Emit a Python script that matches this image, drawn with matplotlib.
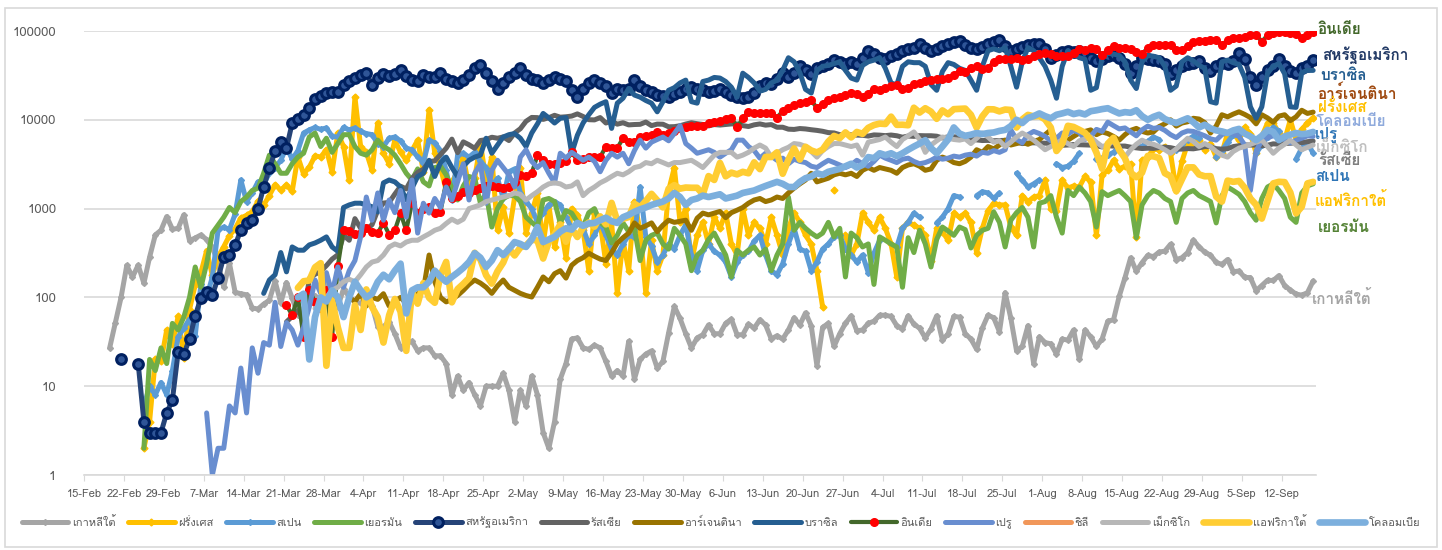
import numpy as np
import pandas as pd
import matplotlib
matplotlib.use("Agg")
import matplotlib.pyplot as plt
from matplotlib import font_manager, ft2font
from matplotlib.ticker import FuncFormatter, NullLocator, FixedLocator

nan = np.nan
BASE = pd.Timestamp("2020-02-15")

# pick an installed font that has Thai glyphs
thai_font = None
for fe in font_manager.fontManager.ttflist:
    try:
        if 0x0E01 in ft2font.FT2Font(fe.fname).get_charmap():
            thai_font = fe.name
            break
    except Exception:
        pass
plt.rcParams["font.family"] = [thai_font, "DejaVu Sans"] if thai_font else ["DejaVu Sans"]

# ---- data: daily new cases ----
korea_start = "2020-02-19"
korea = [27, 52, 100, 229, 169, 231, 144, 284, 505, 571, 813,
         586, 599, 851, 435, 467, 505, 448, 367, 248, 131, 242, 114, 110, 107, 76, 74, 84, 93, 152, 87,
         147, 98, 64, 76, 100, 104, 91, 146, 105, 78, 125,
         101, 89, 86, 94, 81, 47, 47, 53, 39, 27, 30, 32, 25, 27, 27, 22, 22, 18, 8, 13,
         9, 11, 8, 6, 10, 10, 10, 14, 9, 4,
         9, 6, 13, 8, 3, 2, 4, 12, 18, 34, 35, 27, 26, 29, 27, 19, 13, 15, 13, 32,
         12, 20, 23, 25, 16, 19, 40, 79, 58, 39, 27,
         35, 38, 49, 39, 39, 51, 57, 38, 38, 50, 45, 56, 49, 34, 37, 34, 43, 59, 49, 67,
         48, 17, 46, 51, 28, 39, 51, 62, 42, 43,
         51, 54, 63, 63, 61, 48, 44, 62, 50, 45, 35, 44, 62, 33, 39, 61, 60, 39, 34, 26,
         45, 63, 59, 41, 113, 58, 25, 28, 48, 18, 36,
         31, 30, 23, 34, 33, 43, 20, 43, 36, 28, 34, 54, 56, 103, 166, 279, 197, 246, 297, 288,
         324, 332, 397, 266, 280, 320, 441, 371, 323, 299, 248,
         235, 267, 195, 198, 168, 167, 119, 136, 156, 155, 176, 136, 121, 109, 106, 113, 153]

france_start = "2020-02-25"
france = [2, 4, 20, 19,
          43, 30, 61, 21, 73, 138, 190,
          336, 177, 286, 372, 497, 595, 785,
          838, 924, 1210, 1097, 1404, 1861, 1617,
          1847, 1559, 3838, 2446, 2931, 3922, 3809,
          4611, 2599, 7100, 5000, 2100, 18000, 5000,
          4300, 2700, 9200, 4200, 3200, 5900, 4300,
          3500, 4500, 5900, 2600, 13000, 4200, 2900,
          1600, 2000, 2600, 3800, 1750, 2200, 5400,
          2100, 3800, 570, 1030, 530, 1350, 2900,
          530, 900, 1500, 400, 1100, 370, 700,
          280, 1000, 850, 570, 200, 900, 690,
          240, 700, 111, 440, 200, 1200, 560,
          111, 440, 200, 300, 1600, 2900, 700,
          1000, 250, 500, 700, 400, 800, 600,
          900, 400, 300, 1000, 500, 700, 600,
          400, 800, 500, 300, 600, 900, 700,
          500, 400, 200, 78, nan, 1600, nan,
          500, 300, 400, 900, 700, 570, 800,
          600, 400, 170, 600, 700, 650, 600,
          500, 260, 600, 550, 440, 890, 800,
          890, 700, 320, 600, 950, 1150, 1100,
          1100, 620, 500, 1400, 1200, 1350, 1400,
          2100, 1000, 950, 2100, 1700, 1800, 1750,
          2300, 2000, 500, 2400, 2700, 3500, 2800,
          3000, 3200, 480, 3500, 3800, 4700, 4600,
          5000, 4200, 1600, 3400, 5400, 5400, 6000,
          4600, 5400, 3800, 4200, 7100, 7000, 5900,
          8200, 7000, 4200, 6500, 9200, 9200, 7100,
          5900, 10000, 6000, 7800, 9200, 10600]

spain_start = "2020-02-25"
spain = [6, 10, 8, 11,
         8, 15, 36, 45, 57, 37, 141,
         100, 170, 570, 620, 580, 870, 2100,
         1200, 1500, 2000, 1900, 2500, 2900, 3500,
         4900, 3600, 4500, 7100, 7700, 8200, 7800,
         8100, 6500, 6400, 8200, 7700, 8100, 7400,
         7000, 6800, 5400, 5000, 6200, 6400, 5800,
         4800, 4600, 3800, 3300, 5900, 5500, 4500,
         2700, 1250, 4000, 4200, 3800, 4300, 3400,
         2900, 1800, 2200, 1300, 2600, 2800, 1500,
         1200, 1000, 700, 900, 1100, 1200, 1100,
         800, 600, 500, 600, 400, 500, 700,
         500, 350, 300, 400, 500, 480, 1750,
         480, 380, 250, 300, 400, 350, 500,
         660, 300, 200, 340, 400, 330, 300,
         250, 170, 250, 300, 330, 430, 500,
         300, 200, 180, 240, 400, 600, 350,
         330, 200, 250, 350, 400, 480, 500,
         350, 300, 250, 300, 190, 315, 440,
         nan, nan, 370, 600, 700, 890, 800,
         nan, nan, 690, 800, 1000, 1400, 1350,
         nan, nan, 1400, 1550, 1500, 1300, 1500,
         nan, nan, 2500, 2100, 1750, 1900, 2100,
         nan, nan, 3200, 2900, 3000, 3400, 4200,
         nan, nan, 3600, 3700, 4000, 4300, 4900,
         nan, nan, 5200, 5000, 5700, 6400, 6000,
         nan, nan, 4600, 5400, 6000, 6500, 6200,
         nan, nan, 3800, 4500, 5600, 6800, 7000,
         nan, nan, 4200, 5200, 6400, 8200, 7500,
         nan, nan, 3600, 4800, 5500, 4200]

germany_start = "2020-02-25"
germany = [2, 20, 15, 27,
           18, 51, 43, 60, 100, 220, 130,
           240, 530, 650, 800, 1030, 900, 1200,
           1350, 1600, 1700, 2500, 4000, 3200, 2500,
           2500, 3200, 3800, 4200, 6400, 7100, 5000,
           6200, 4300, 5400, 6800, 6800, 5000, 4200,
           4000, 4600, 5900, 5000, 4600, 4000, 3200,
           2500, 2100, 2800, 2000, 1800, 2900, 3000,
           2400, 1700, 1250, 1800, 2300, 2200, 1150,
           1500, 620, 1000, 1300, 1400, 1400, 1200,
           800, 700, 620, 1250, 1300, 1200, 690,
           950, 890, 700, 620, 900, 1000, 700,
           620, 410, 500, 690, 550, 600, 260,
           440, 500, 530, 400, 350, 600, 500,
           400, 200, 300, 340, 450, 530, 400,
           300, 170, 340, 300, 340, 370, 300,
           350, 200, 300, 400, 1350, 570, 700,
           600, 530, 480, 530, 700, 480, 600,
           170, 530, 470, 370, 400, 140, 480,
           440, 400, 370, 130, 470, 320, 570,
           400, 220, 450, 620, 560, 500, 620,
           580, 360, 500, 570, 600, 920, 700,
           370, 740, 900, 1030, 800, 370, 1150,
           1200, 1400, 800, 530, 1600, 1400, 1750,
           1500, 1200, 620, 1550, 1400, 1500, 1600,
           1400, 1200, 470, 1100, 1400, 1600, 1500,
           1300, 1200, 700, 1300, 1500, 1600, 1400,
           1300, 1200, 690, 1400, 1750, 1600, 1450,
           1200, 900, 740, 1300, 1750, 1900, 1600,
           1300, 800, 700, 1500, 1800, 1900]

usa_start = "2020-02-21"
usa = [20, nan, nan, 18, 4, 3, 3, 3, 5,
       7, 24, 23, 34, 62, 98, 115, 106, 165, 285, 300, 390, 570, 690, 740, 990, 1750, 2850, 4400, 5600,
       4800, 9200, 10100, 11400, 13500, 17000, 18600, 20000, 20800, 20800, 24700,
       27000, 29500, 32000, 34000, 24700, 29500, 33000, 31000, 33000, 36000, 31000, 28000, 27000, 32000,
       30500, 30500, 33500, 29000, 27000, 26000, 28000, 32000, 38000, 41000, 34000, 27000, 22500, 26000,
       30000, 34000,
       38000, 32000, 29000, 28000, 26000, 28000, 30500, 29000, 27000, 21500, 18000, 22500, 26000, 28000,
       26000, 24000, 20000, 22500, 21500, 22000, 28000, 24000, 21500, 20800, 19000, 18500, 18000, 19500,
       20800, 22000, 23300,
       22000, 21500, 20800, 21000, 22500, 20500, 19000, 18000, 17500, 18000, 20000, 24000, 26000, 25000,
       29000, 33500, 30000, 34000, 40000, 36000, 33000, 38000, 40000, 43000, 47000, 45000, 43000, 45000,
       42000, 50000,
       60000, 55000, 50000, 48000, 52000, 55000, 60000, 62000, 65000, 72000, 64000, 60000, 62000, 68000,
       72000, 75000, 77000, 70000, 64000, 62000, 66000, 72000, 75000, 80000, 68000, 60000, 62000, 66000,
       70000, 72000, 72000,
       62000, 50000, 54000, 58000, 60000, 58000, 60000, 56000, 50000, 46000, 48000, 52000, 54000, 50000,
       42000, 34000, 40000, 50000, 48000, 47000, 46000, 42000, 33000, 36000, 40000, 42000, 44000, 46000,
       38000, 35000, 40000,
       44000, 42000, 46000, 56000, 48000, 30000, 24700, 30000, 36000, 40000, 48000, 40000, 35000, 34000,
       38000, 40000, 47000]

russia_start = "2020-03-21"
russia = [53, 61, 71, 57, 163, 182, 196, 228, 270, 302, 500,
          440, 771, 601, 582, 658, 954, 1154, 1175, 1459, 1786, 1667, 2186, 2558, 2774, 3388, 3448, 4070,
          4785, 6060, 4268, 5642, 5236, 4774, 5849, 5966, 6361, 6198, 6411, 5841, 7099,
          7933, 9623, 10633, 10581, 10102, 10559, 11231, 10699, 10817, 11012, 11656, 10899, 10028, 9974,
          10598, 9200, 9709, 8926, 9263, 8764, 8849, 8894, 9434, 8599, 8946, 8915, 8338, 8371, 8572, 8952,
          9268,
          9035, 8863, 8536, 8831, 8726, 8855, 8984, 8985, 8595, 8404, 8779, 8987, 8706, 8835, 8246, 8248,
          7843, 7790, 7972, 7889, 7728, 7600, 7425, 7176, 7113, 6800, 6852, 6791, 6719, 6693,
          6556, 6760, 6718, 6632, 6736, 6611, 6368, 6562, 6509, 6635, 6611, 6615, 6537, 6248, 6422, 6428,
          6406, 6234, 6109, 5940, 5842, 5862, 5811, 5848, 5871, 5765, 5635, 5395, 5475, 5509, 5482,
          5462, 5427, 5394, 5159, 5204, 5267, 5241, 5212, 5189, 5118, 4945, 5102, 5057, 5065, 5061, 4921,
          4839, 4748, 4790, 4767, 4870, 4921, 4852, 4696, 4676, 4744, 4711, 4829, 4993, 4980, 4729,
          4670, 4729, 4995, 5110, 5205, 5195, 5185, 5099, 5172, 5363, 5310, 5406, 5449, 5509, 5529, 5670,
          5762]

argentina_start = "2020-04-01"
argentina = [100, 90, 110, 80, 100, 95, 110, 80, 90, 100, 85, 95, 110, 120, 300, 150, 100, 89, 95, 105,
             120, 140, 157, 145, 130, 111, 135, 157, 130, 120,
             111, 105, 101, 130, 170, 150, 185, 200, 165, 230, 260, 280, 315, 290, 270, 260, 320, 410, 470,
             530, 690, 600, 640, 690, 550, 650, 740, 700, 720, 740, 570,
             780, 890, 850, 890, 930, 790, 900, 960, 1030, 1150, 1250, 1300, 1200, 1250, 1350, 1300, 1500,
             1700, 1900, 2100, 2500, 2000, 2100, 2200, 2400, 2500, 2400, 2500, 2300, 2700,
             2900, 2700, 2900, 2800, 2700, 2500, 2900, 3100, 3200, 3000, 2700, 2800, 3500, 3800, 3600, 3300,
             3200, 3400, 3800, 4600, 4300, 5000, 4700, 5200, 5900, 5200, 5400, 5600, 5300, 5700, 6000,
             6800, 7700, 5900, 5600, 5900, 6500, 7100, 7400, 7700, 6800, 7300, 7000, 6500, 5900, 6800, 7600,
             8000, 7400, 7100, 7300, 8400, 9000, 10000, 8500, 9200, 9500, 10400, 10200, 9300, 7100, 8500,
             11400, 10800, 11600, 12300, 11500, 10600, 9000, 11400, 10500, 9400, 11000, 11400, 9800, 10800,
             12800, 11800, 12200]

brazil_start = "2020-03-17"
brazil = [111, 157, 180, 320, 194, 370, 340, 340, 390, 410, 440, 480, 370, 330, 1030,
          1100, 1150, 1150, 1100, 1050, 920, 1950, 2100, 2000, 1750, 1250, 1700, 2300, 2500, 3500, 2300,
          3300, 3800, 2900, 2300, 3000, 3500, 3800, 4000, 6200, 4200, 5200, 6400, 6800, 7000,
          6200, 5000, 7100, 9000, 11800, 10500, 9200, 10400, 10600, 4200, 6700, 9200, 11400, 13800, 15000,
          16000, 8000, 15400, 17500, 22500, 19000, 18000, 16500, 15400, 12300, 16000, 21500, 23000, 26000,
          28000, 16000,
          15400, 27000, 28000, 30000, 29500, 27000, 23300, 18000, 33500, 30000, 26000, 21000, 22000, 26000,
          28000, 36000, 50000, 45000, 34000, 22000, 20000, 36000, 40000, 41000, 43000, 45000, 36000, 29500,
          28000, 41000,
          45000, 47000, 50000, 38000, 26000, 24700, 40000, 45000, 44000, 44000, 40000, 25000, 21500, 35000,
          44000, 42000, 38000, 36000, 28000, 21500, 40000, 60000, 63000, 60000, 65000, 40000, 23300, 45000,
          65000, 60000, 50000,
          40000, 28000, 17500, 40000, 60000, 55000, 50000, 48000, 21500, 23000, 50000, 56000, 55000, 53000,
          45000, 28000, 22500, 45000, 53000, 52000, 50000, 40000, 21500, 24000, 45000, 50000, 46000, 41000,
          38000, 16000, 15400,
          45000, 47000, 44000, 42000, 30000, 14000, 10400, 14000, 33500, 40000, 43000, 33000, 14000, 13800,
          34000, 36000, 36000]

india_start = "2020-03-21"
india = [82, 63, 101, 36, 121, 88, 75, 120, 36, 225, 580,
         560, 520, 530, 600, 540, 530, 690, 510, 570, 890, 570, 1150, 890, 1000, 1030, 890, 920, 2000,
         1300, 1400, 1550, 1500, 1600, 1700, 1800, 1800, 1750, 1700, 1750, 2000,
         2400, 2300, 2500, 4000, 3500, 3200, 3200, 3300, 3400, 4300, 3500, 3600, 3800, 3800, 3800, 5000,
         4800, 4800, 6200, 5600, 5600, 6400, 6600, 6800, 7300, 6800, 7100, 7500, 8000, 8300, 8600,
         8600, 8600, 9300, 9400, 9800, 10200, 10600, 8200, 10400, 12300, 12000, 11800, 11800, 11800, 10600,
         12500, 13500, 14500, 15400, 16000, 16700, 13500, 15000, 16700, 17500, 18000, 19000, 20000, 19500,
         18000,
         19500, 22500, 21500, 23000, 24000, 24500, 22500, 23000, 25000, 26000, 27000, 28000, 29000, 28500,
         29500, 32000, 35000, 34500, 38000, 40000, 37000, 38000, 45000, 49000, 48500, 48500, 50000, 47500,
         48500, 52000, 55000,
         57000, 54700, 52900, 52100, 52500, 56300, 62500, 61500, 64400, 62100, 53600, 60900, 67000, 64500,
         65000, 63500, 57900, 55000, 64500, 69600, 68900, 69900, 69200, 61400, 60900, 67100, 75800, 77200,
         76400, 78800, 78500,
         69900, 78400, 83900, 83300, 86400, 90600, 90800, 75800, 89700, 95700, 96600, 97600, 94400, 92100,
         83800, 90100, 97900]

peru_start = "2020-03-07"
peru = [5, 1, 2, 2, 6, 5, 16,
        5, 27, 14, 31, 29, 88, 28,
        52, 43, 29, 46, 78, 157, 111,
        190, 111, 220, 130, 200, 260, 480,
        1350, 740, 1500, 740, 1250, 900, 1600,
        800, 2100, 530, 1150, 890, 1300, 1030,
        1750, 1250, 2000, 3200, 1250, 2500, 3200,
        1150, 2700, 3500, 2900, 2400, 1750, 3800,
        4600, 3400, 2900, 3300, 2500, 1950, 4200,
        3700, 4300, 3900, 3500, 3800, 3400, 2600,
        3500, 4200, 3800, 4200, 3200, 4500, 5900,
        4800, 5600, 6000, 6400, 5800, 7000, 8600,
        5400, 4800, 4200, 4400, 4600, 4300, 3800,
        4200, 4600, 5900, 5900, 5000, 4500, 3700,
        4200, 3900, 3500, 3700, 3200, 3600, 3400,
        3300, 3000, 2900, 3200, 3500, 3300, 3100,
        2900, 3100, 3500, 3200, 3000, 3400, 4000,
        3700, 3500, 3300, 3600, 3700, 3400, 3200,
        3300, 3500, 3800, 3600, 3700, 3900, 3800,
        4000, 4100, 3900, 4300, 4200, 4500, 4300,
        4600, 7700, 6000, 5500, 6800, 7400, 7000,
        6500, 5800, 6200, 7100, 6900, 7600, 7200,
        6000, 6500, 7800, 7400, 9400, 8600, 7900,
        8100, 7300, 6600, 7700, 8500, 8000, 8200,
        7600, 6800, 6300, 7100, 7500, 7400, 7000,
        6600, 6100, 5900, 6800, 7200, 6900, 6500,
        5200, 1600, 4500, 5800, 6300, 6600, 6400,
        6000, 5500, 5900, 6200, 6600, 6500]

chile_start = "2020-03-01"
chile = []  # in the legend only, no visible line

mexico_start = "2020-03-26"
mexico = [75, 80, 100, 120, 130, 150,
          160, 150, 180, 220, 250, 260, 300, 370, 400, 380, 420, 440, 440, 480, 520, 570, 600, 680, 760,
          700, 760, 1000, 1050, 1100, 1200, 1250, 1300, 1350, 1400, 1500,
          1450, 1250, 1400, 1550, 1750, 1900, 1950, 1900, 1750, 1800, 2000, 1400, 1600, 1750, 1950, 2100,
          2300, 2500, 2400, 2600, 2900, 3000, 3300, 3200, 3500, 3300, 3100, 3300, 3300, 3400, 3500,
          3200, 2900, 3400, 4000, 4300, 4300, 4300, 3800, 4000, 4300, 4800, 5200, 4800, 3800, 4200, 4600,
          4900, 5400, 5300, 5000, 4400, 3800, 4500, 5000, 5400, 5400, 5200, 5000, 5200, 4000,
          5600, 5800, 6000, 6400, 5600, 5000, 6000, 6600, 7300, 6000, 4300, 5200, 5800, 6400, 6200, 6000,
          5900, 6100, 5400, 6200, 7100, 6400, 5600, 5800, 5000, 5600, 6400, 7100, 6500, 5900, 5200,
          4600, 5000, 5500, 5900, 5400, 5000, 5800, 6100, 6400, 5600, 5000, 5200, 5800, 4800, 3800, 4600,
          5300, 5900, 5500, 5300, 5000, 4600, 4200, 4700, 5400, 6200, 5700, 5000, 5400, 5000, 4400,
          4000, 3800, 4400, 4800, 5000, 5300, 5600, 5900, 5000, 4200, 4800, 5300, 5900, 5200, 4600, 4900,
          5200]

safrica_start = "2020-03-23"
safrica = [128, 152, 155, 218, 243, 17, 93, 46, 27,
           27, 82, 43, 123, 78, 60, 31, 63, 96, 69, 25, 116, 85, 145, 99, 87, 178, 251, 88, 124,
           142, 165, 318, 267, 178, 143, 197, 247, 354, 297,
           365, 385, 447, 437, 274, 424, 511, 663, 424, 595, 479, 612, 698, 627, 818, 665, 1160, 724, 767,
           803, 1134, 1032, 1218, 1465, 1240, 1032, 1673, 1837, 1678, 1727, 1716,
           1716, 1455, 2322, 2102, 3267, 2312, 2539, 2430, 2594, 2501, 3319, 2783, 3825, 3809, 4302, 2469,
           3549, 4757, 3571, 4966, 4515, 4288, 4621, 5688, 6579, 6215, 7210, 6334, 7297, 6945,
           8124, 8728, 9063, 8971, 10853, 8773, 8810, 8685, 13674, 12058, 13497, 12348, 10259, 12757, 11554,
           13172, 13285, 13373, 11387, 8170, 10939, 13150, 13104, 12444, 13046, 12904, 8194, 10107, 11362,
           10926, 11046,
           10107, 8195, 4456, 5377, 8559, 8307, 7712, 7131, 5958, 4279, 2810, 5385, 6275, 4586, 3692, 2541,
           2258, 2541, 3916, 3880, 3707, 2505, 2313, 1567, 2143, 2910, 2912, 2422, 2312, 2320, 1365,
           1199, 2066, 2003, 2048, 1716, 1299, 1104, 772, 1218, 1923, 2002, 1986, 1517, 884, 1049, 1923,
           2000]

colombia_start = "2020-03-23"
colombia = [100, 110, 20, 60, 100, 90, 120, 100, 60,
            100, 150, 120, 100, 110, 150, 180, 160, 200, 240, 66, 120, 130, 130, 150, 200, 170, 150, 170,
            190, 215, 250, 315, 280, 220, 260, 340, 300, 350, 420,
            400, 370, 450, 620, 420, 450, 480, 550, 600, 580, 690, 640, 680, 690, 740, 790, 720, 690, 800,
            850, 920, 980, 1030, 1100, 1150, 1200, 1300, 1500, 1350, 1100, 1250,
            1300, 1400, 1350, 1400, 1450, 1300, 1350, 1400, 1500, 1550, 1600, 1700, 1800, 1900, 2000, 1900,
            1750, 1750, 2000, 2200, 2300, 2500, 2400, 2600, 2700, 2800, 3000, 3200, 2900, 3100,
            3800, 3700, 4200, 4000, 4200, 3900, 4200, 4600, 5000, 5400, 5900, 4800, 4200, 5000, 6000, 8200,
            7000, 6600, 6800, 7100, 6900, 7100, 7200, 7500, 7700, 8500, 10000, 9200, 10500, 11000, 11800,
            11000, 10400, 11400, 11800, 12300, 11600, 12000, 11500, 12500, 12800, 13200, 13500, 12600,
            11800, 12200, 12000, 12800, 11000, 10000, 10800, 11400, 10200, 9600, 9200, 9800, 10400, 9400,
            8200, 8800, 8000, 7600,
            7400, 7100, 7600, 7900, 7000, 6500, 5900, 6600, 7700, 7300, 5900, 6500, 6800, 7100, 6900, 7000,
            7300]

# legend / drawing order: name, start, values, colour, width, marker style
series = [
    ("เกาหลีใต้", korea_start, korea, "#A5A5A5", 3.6, dict(marker="D", ms=3, mfc="#A5A5A5", mec="#A5A5A5")),
    ("ฝรั่งเศส", france_start, france, "#FFC000", 3.6, dict(marker="D", ms=3.5, mfc="#FFC000", mec="#FFC000")),
    ("สเปน", spain_start, spain, "#5B9BD5", 3.6, dict(marker="D", ms=3, mfc="#5B9BD5", mec="#5B9BD5")),
    ("เยอรมัน", germany_start, germany, "#70AD47", 3.6, {}),
    ("สหรัฐอเมริกา", usa_start, usa, "#264478", 3.6,
     dict(marker="o", ms=7, mfc="#2F5597", mec="#002060", mew=2.2)),
    ("รัสเซีย", russia_start, russia, "#636363", 3.6, {}),
    ("อาร์เจนตินา", argentina_start, argentina, "#997300", 3.6, {}),
    ("บราซิล", brazil_start, brazil, "#255E91", 3.6, {}),
    ("อินเดีย", india_start, india, "#43682B", 3.0, dict(marker="o", ms=5.5, mfc="#FF0000", mec="#FF0000")),
    ("เปรู", peru_start, peru, "#698ED0", 3.6, {}),
    ("ชิลี", chile_start, chile, "#F1975A", 3.6, {}),
    ("เม็กซิโก", mexico_start, mexico, "#B7B7B7", 3.6, {}),
    ("แอฟริกาใต้", safrica_start, safrica, "#FFCD33", 4.8, {}),
    ("โคลอมเบีย", colombia_start, colombia, "#7CAFDD", 4.8, {}),
]

W, H = 1442, 550
fig = plt.figure(figsize=(W / 100, H / 100), dpi=100)
ax = fig.add_axes([84 / W, 75 / H, (1316 - 84) / W, 444 / H])

handles = []
for name, start, vals, color, lw, mk in series:
    d0 = (pd.Timestamp(start) - BASE).days
    x = d0 + np.arange(len(vals)) + 0.5
    (ln,) = ax.plot(x, np.array(vals, dtype=float), color=color, lw=lw,
                    solid_joinstyle="round", solid_capstyle="round", label=name, **mk)
    handles.append(ln)

ax.set_yscale("log")
ax.set_ylim(1, 1e5)
ax.set_xlim(0, 216)
ax.yaxis.set_major_locator(FixedLocator([1, 10, 100, 1000, 10000, 100000]))
ax.yaxis.set_minor_locator(NullLocator())
ax.yaxis.set_major_formatter(FuncFormatter(lambda v, _: f"{int(round(v))}"))
ax.grid(axis="y", color="#D9D9D9", lw=1.2)
ax.set_axisbelow(True)
for s in ("top", "right", "left"):
    ax.spines[s].set_visible(False)
ax.spines["bottom"].set_color("#D9D9D9")
ax.spines["bottom"].set_linewidth(1.2)

tick_days = np.arange(0, 216, 7)
ax.set_xticks(tick_days)
ax.set_xticklabels([f"{(BASE + pd.Timedelta(days=int(t))).day}-{(BASE + pd.Timedelta(days=int(t))).strftime('%b')}"
                    for t in tick_days])
ax.tick_params(axis="x", length=4, color="#D9D9D9", pad=6, labelsize=8, labelcolor="#595959")
ax.tick_params(axis="y", length=0, pad=20, labelsize=9.5, labelcolor="#595959")

# end-of-line labels on the right
end_labels = [
    ("อินเดีย", 1318, 30, "#43682B"),
    ("สหรัฐอเมริกา", 1322, 55, "#203864"),
    ("บราซิล", 1320, 76, "#255E91"),
    ("อาร์เจนตินา", 1317, 93, "#9E480E"),
    ("ฝรั่งเศส", 1318, 107, "#FFC000"),
    ("โคลอมเบีย", 1316, 122, "#8FAADC"),
    ("เปรู", 1315, 135, "#2E75B6"),
    ("เม็กซิโก", 1316, 148, "#BFBFBF"),
    ("รัสเซีย", 1318, 161, "#7F7F7F"),
    ("สเปน", 1315, 177, "#2E75B6"),
    ("แอฟริกาใต้", 1315, 200, "#FFC000"),
    ("เยอรมัน", 1318, 228, "#548235"),
    ("เกาหลีใต้", 1312, 298, "#A5A5A5"),
]
for txt, px, py, col in end_labels:
    fig.text(px / W, 1 - py / H, txt, color=col, fontsize=11, fontweight="bold",
             ha="left", va="center")

fig.legend(handles, [h.get_label() for h in handles], loc="center",
           bbox_to_anchor=(0.5, 1 - 522 / H), ncol=14, frameon=False, fontsize=8,
           handlelength=4.2, handletextpad=0.3, columnspacing=1.15, numpoints=1,
           labelcolor="#595959")

fig.add_artist(plt.Rectangle((5 / W, 3 / H), 1432 / W, 539 / H, transform=fig.transFigure,
                             fill=False, ec="#D9D9D9", lw=1.2))

fig.savefig("out.png", dpi=100)
